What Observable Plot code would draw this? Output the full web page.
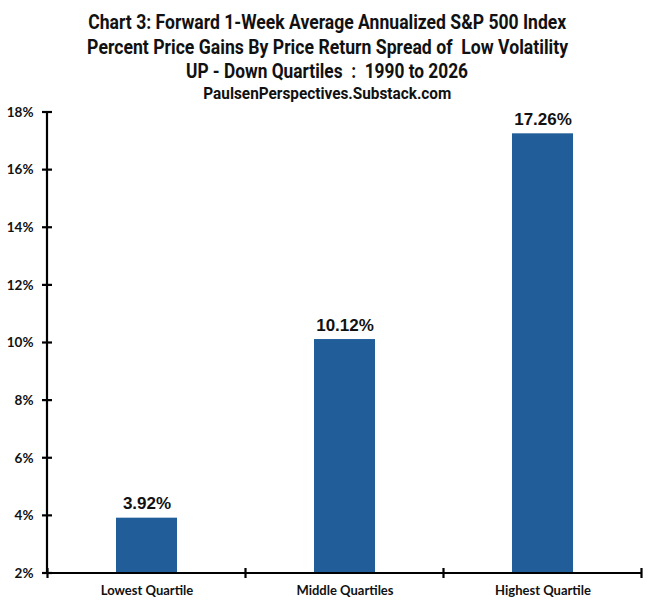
<!DOCTYPE html>
<html>
<head>
<meta charset="utf-8">
<script src="https://cdn.jsdelivr.net/npm/d3@7"></script>
<script src="https://cdn.jsdelivr.net/npm/@observablehq/plot@0.6"></script>
<style>
  html, body { margin: 0; padding: 0; background: #fff; }
  #wrap { width: 655px; }
  #title { height: 104px; box-sizing: border-box; padding-top: 10px; text-align: center; color: #111;
    font-family: Roboto, "Liberation Sans", sans-serif; font-weight: bold; }
  #title .t { font-size: 20px; line-height: 24.5px; white-space: nowrap; }
  #title .s { font-size: 16px; line-height: 20px; white-space: nowrap; }
  #title span { display: inline-block; transform-origin: 50% 50%; }
  svg { display: block; overflow: visible; }
</style>
</head>
<body>
<div id="wrap">
  <div id="title">
    <div class="t"><span data-w="478">Chart 3: Forward 1-Week Average Annualized S&amp;P 500 Index</span></div>
    <div class="t"><span data-w="481">Percent Price Gains By Price Return Spread of&nbsp; Low Volatility</span></div>
    <div class="t"><span data-w="282">UP - Down Quartiles&nbsp; :&nbsp; 1990 to 2026</span></div>
    <div class="s"><span data-w="248">PaulsenPerspectives.Substack.com</span></div>
  </div>
  <div id="chart"></div>
</div>
<script>
const categories = ["Lowest Quartile", "Middle Quartiles", "Highest Quartile"];
const values = [3.92, 10.12, 17.26];
const valueLabels = ["3.92%", "10.12%", "17.26%"];
const yTicks = [2, 4, 6, 8, 10, 12, 14, 16, 18];

const data = categories.map((c, i) => ({cat: c, value: values[i], label: valueLabels[i]}));

// fit condensed title lines
document.querySelectorAll("#title span").forEach(s => {
  const w = s.getBoundingClientRect().width;
  const target = +s.dataset.w;
  if (w > 0) s.style.transform = `scaleX(${target / w})`;
});

const axisFrame = (index, scales, values, dims) => {
  const x = scales.x, y = scales.y;
  const g = d3.create("svg:g").attr("stroke", "#000").attr("stroke-width", 2.2).attr("fill", "none");
  const x0 = dims.marginLeft, x1 = dims.width - dims.marginRight;
  const yb = y(2), yt = y(18);
  g.append("line").attr("x1", x0).attr("x2", x0).attr("y1", yt).attr("y2", yb);
  g.append("line").attr("x1", x0).attr("x2", x1).attr("y1", yb).attr("y2", yb);
  for (const t of yTicks) {
    g.append("line").attr("x1", x0 - 5).attr("x2", x0 + 5).attr("y1", y(t)).attr("y2", y(t));
  }
  const step = x.step(), bw = x.bandwidth();
  const bounds = categories.map(c => x(c) + bw / 2 - step / 2);
  bounds.push(x(categories[categories.length - 1]) + bw / 2 + step / 2);
  for (const b of bounds) {
    g.append("line").attr("x1", b).attr("x2", b).attr("y1", yb - 5).attr("y2", yb + 5);
  }
  return g.node();
};

const plot = Plot.plot({
  width: 655,
  height: 506,
  marginTop: 8,
  marginBottom: 37,
  marginLeft: 47,
  marginRight: 13,
  style: {background: "#fff", overflow: "visible"},
  x: {domain: categories, paddingInner: 0.69, paddingOuter: 0.345, label: null},
  y: {domain: [2, 18], label: null},
  marks: [
    Plot.barY(data, {x: "cat", y1: 2, y2: "value", fill: "#215d99"}),
    Plot.text(data, {x: "cat", y: "value", text: "label", dy: -9, lineAnchor: "bottom",
      fontSize: 17, fontWeight: "bold", fill: "#111", fontFamily: "Liberation Sans, Arial, sans-serif"}),
    Plot.axisY(yTicks, {tickSize: 0, tickPadding: 14, tickFormat: d => d + "%",
      fontSize: 13.5, fontWeight: "bold", fill: "#111", fontFamily: "Lato, sans-serif", label: null}),
    Plot.axisX({tickSize: 0, tickPadding: 12, fontSize: 13, fontWeight: "bold", fill: "#111",
      fontFamily: "Lato, sans-serif", label: null}),
    axisFrame
  ]
});
document.getElementById("chart").appendChild(plot);
</script>
</body>
</html>
